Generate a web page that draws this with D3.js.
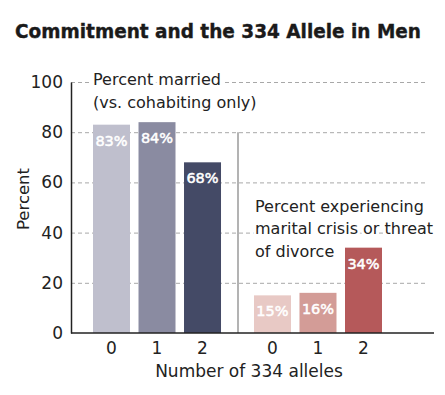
<!DOCTYPE html>
<html>
<head>
<meta charset="utf-8">
<script src="https://cdn.jsdelivr.net/npm/d3@7"></script>
<style>
  body { margin: 0; background: #fff; }
  text { font-family: "DejaVu Sans", sans-serif; }
</style>
</head>
<body>
<div id="chart"></div>
<script>
// Data
var groups = ['married', 'crisis'];
var alleles = ['0', '1', '2'];
var marriedValues = [83, 84, 68];
var crisisValues = [15, 16, 34];
var yTicks = [0, 20, 40, 60, 80, 100];
var gridTicks = [20, 40, 60, 80, 100];

var data = [];
alleles.forEach((a, i) => data.push({ group: 'married', allele: a, value: marriedValues[i] }));
alleles.forEach((a, i) => data.push({ group: 'crisis', allele: a, value: crisisValues[i] }));

var colors = {
  married: d3.scaleOrdinal().domain(alleles).range(['#bfbfcd', '#8a8ba1', '#444a66']),
  crisis: d3.scaleOrdinal().domain(alleles).range(['#e8c9c5', '#d39c97', '#b5595a']),
};

var width = 445,
  height = 395;

var svg = d3.select('#chart').append('svg').attr('width', width).attr('height', height);

// Scales
var y = d3.scaleLinear().domain([0, 100]).range([333, 82]);

var xGroup = d3.scaleBand().domain(groups).range([88.75, 386.25]).paddingInner(0.152);

var xInner = d3
  .scaleBand()
  .domain(alleles)
  .range([0, xGroup.bandwidth()])
  .paddingInner(0.187)
  .paddingOuter(0.0935);

var axisX = 71,
  gridRight = 427,
  baseRight = 434;

// Title
svg
  .append('text')
  .attr('x', 15)
  .attr('y', 38)
  .attr('font-size', 19.5)
  .attr('font-weight', 'bold')
  .attr('fill', '#1a1a1a')
  .attr('stroke', '#1a1a1a')
  .attr('stroke-width', 0.4)
  .attr('textLength', 406)
  .attr('lengthAdjust', 'spacingAndGlyphs')
  .text('Commitment and the 334 Allele in Men');

// Gridlines
svg
  .append('g')
  .attr('transform', `translate(${axisX},0)`)
  .call(d3.axisLeft(y).tickValues(gridTicks).tickSize(-(gridRight - axisX)).tickFormat(''))
  .call((g) => g.select('.domain').remove())
  .call((g) =>
    g.selectAll('.tick line').attr('stroke', '#a8a8a8').attr('stroke-dasharray', '4,3')
  );

// Bars
svg
  .append('g')
  .selectAll('rect')
  .data(data)
  .join('rect')
  .attr('x', (d) => xGroup(d.group) + xInner(d.allele))
  .attr('y', (d) => y(d.value))
  .attr('width', xInner.bandwidth())
  .attr('height', (d) => y(0) - y(d.value))
  .attr('fill', (d) => colors[d.group](d.allele));

// Value labels inside bars
svg
  .append('g')
  .selectAll('text')
  .data(data)
  .join('text')
  .attr('x', (d) => xGroup(d.group) + xInner(d.allele) + xInner.bandwidth() / 2)
  .attr('y', (d) => y(d.value) + 21)
  .attr('text-anchor', 'middle')
  .attr('font-size', 14.5)
  .attr('fill', '#fff')
  .attr('stroke', '#fff')
  .attr('stroke-width', 0.5)
  .text((d) => d.value + '%');

// Divider between the two panels
svg
  .append('line')
  .attr('x1', 238)
  .attr('x2', 238)
  .attr('y1', y(80))
  .attr('y2', y(0))
  .attr('stroke', '#9a9a9a')
  .attr('stroke-width', 1.5);

// Y axis
svg
  .append('g')
  .attr('transform', `translate(${axisX},0)`)
  .call(d3.axisLeft(y).tickValues(yTicks).tickSize(0).tickPadding(8))
  .call((g) => g.select('.domain').attr('stroke', '#222').attr('stroke-width', 1.5))
  .call((g) => g.selectAll('text').attr('font-size', 17).attr('fill', '#222').attr('font-family', null));

// X axis baseline
svg
  .append('line')
  .attr('x1', axisX)
  .attr('x2', baseRight)
  .attr('y1', y(0))
  .attr('y2', y(0))
  .attr('stroke', '#222')
  .attr('stroke-width', 1.5);

// X tick labels for each panel
groups.forEach((grp) => {
  svg
    .append('g')
    .attr('transform', `translate(${xGroup(grp)},${y(0)})`)
    .call(d3.axisBottom(xInner).tickSize(0).tickPadding(9))
    .call((g) => g.select('.domain').remove())
    .call((g) => g.selectAll('text').attr('font-size', 17).attr('fill', '#222').attr('font-family', null));
});

// Axis titles
svg
  .append('text')
  .attr('x', 249)
  .attr('y', 377)
  .attr('text-anchor', 'middle')
  .attr('font-size', 17)
  .attr('fill', '#222')
  .text('Number of 334 alleles');

svg
  .append('text')
  .attr('transform', 'translate(29,199) rotate(-90)')
  .attr('text-anchor', 'middle')
  .attr('font-size', 16.5)
  .attr('fill', '#222')
  .text('Percent');

// Panel annotations (white halo hides the gridlines behind them)
function annotate(x, y0, lines) {
  svg
    .append('text')
    .attr('font-size', 16)
    .attr('fill', '#222')
    .attr('stroke', '#fff')
    .attr('stroke-width', 6)
    .attr('paint-order', 'stroke')
    .selectAll('tspan')
    .data(lines)
    .join('tspan')
    .attr('x', x)
    .attr('y', (d, i) => y0 + i * 22.5)
    .text((d) => d);
}

annotate(93, 85, ['Percent married', '(vs. cohabiting only)']);
annotate(255, 211.5, ['Percent experiencing', 'marital crisis or threat', 'of divorce']);
</script>
</body>
</html>
